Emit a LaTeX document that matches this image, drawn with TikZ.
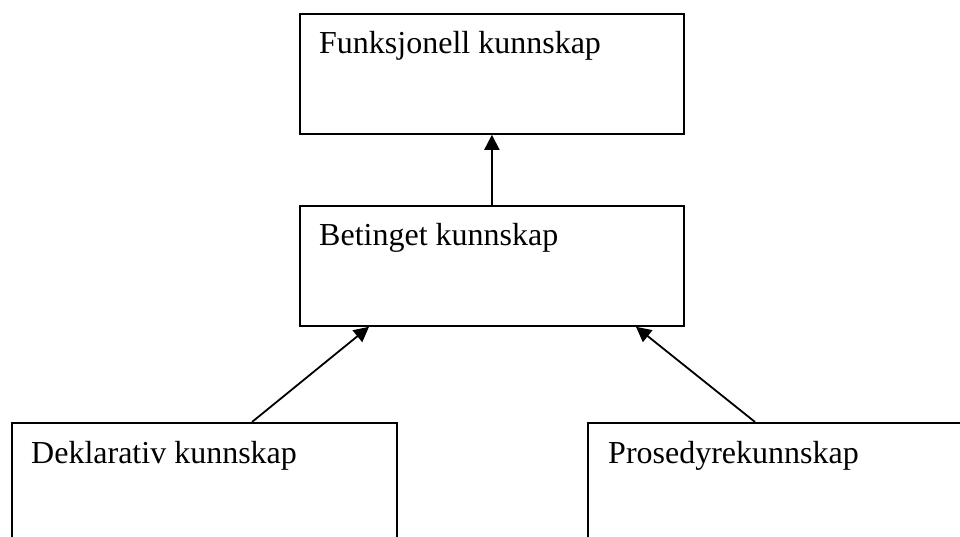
\documentclass[tikz,border=0pt]{standalone}
\usepackage{fontspec}
\setmainfont{Liberation Serif}
\usetikzlibrary{arrows.meta}
\begin{document}
\begin{tikzpicture}[x=1pt,y=-1pt,
  box/.style={draw,line width=1.8pt,rectangle,anchor=north west,inner sep=0pt},
  lbl/.style={anchor=base west,inner sep=0pt,font=\fontsize{32}{38}\selectfont},
  arr/.style={line width=1.8pt,-{Triangle[length=15pt,width=15pt]}}]
\useasboundingbox (0,0) rectangle (960,537);
\clip (0,0) rectangle (960,537);
\fill[white] (0,0) rectangle (960,537);
\node[box,minimum width=384pt,minimum height=120pt] (top) at (299,13) {};
\node[box,minimum width=384pt,minimum height=120pt] (mid) at (299,205) {};
\node[box,minimum width=385pt,minimum height=140pt] (bl) at (11,422) {};
\node[box,minimum width=390pt,minimum height=140pt] (br) at (587,422) {};
\node[lbl] (ttop) at (319,54) {Funksjonell kunnskap};
\node[lbl] (tmid) at (319,245) {Betinget kunnskap};
\node[lbl] (tbl) at (31,463) {Deklarativ kunnskap};
\node[lbl] (tbr) at (608,463) {Prosedyrekunnskap};
\draw[arr] (mid.north) -- (top.south);
\draw[arr] (bl.north -| 252,0) -- (mid.south -| 369,0);
\draw[arr] (br.north -| 755,0) -- (mid.south -| 636,0);
\end{tikzpicture}
\end{document}
